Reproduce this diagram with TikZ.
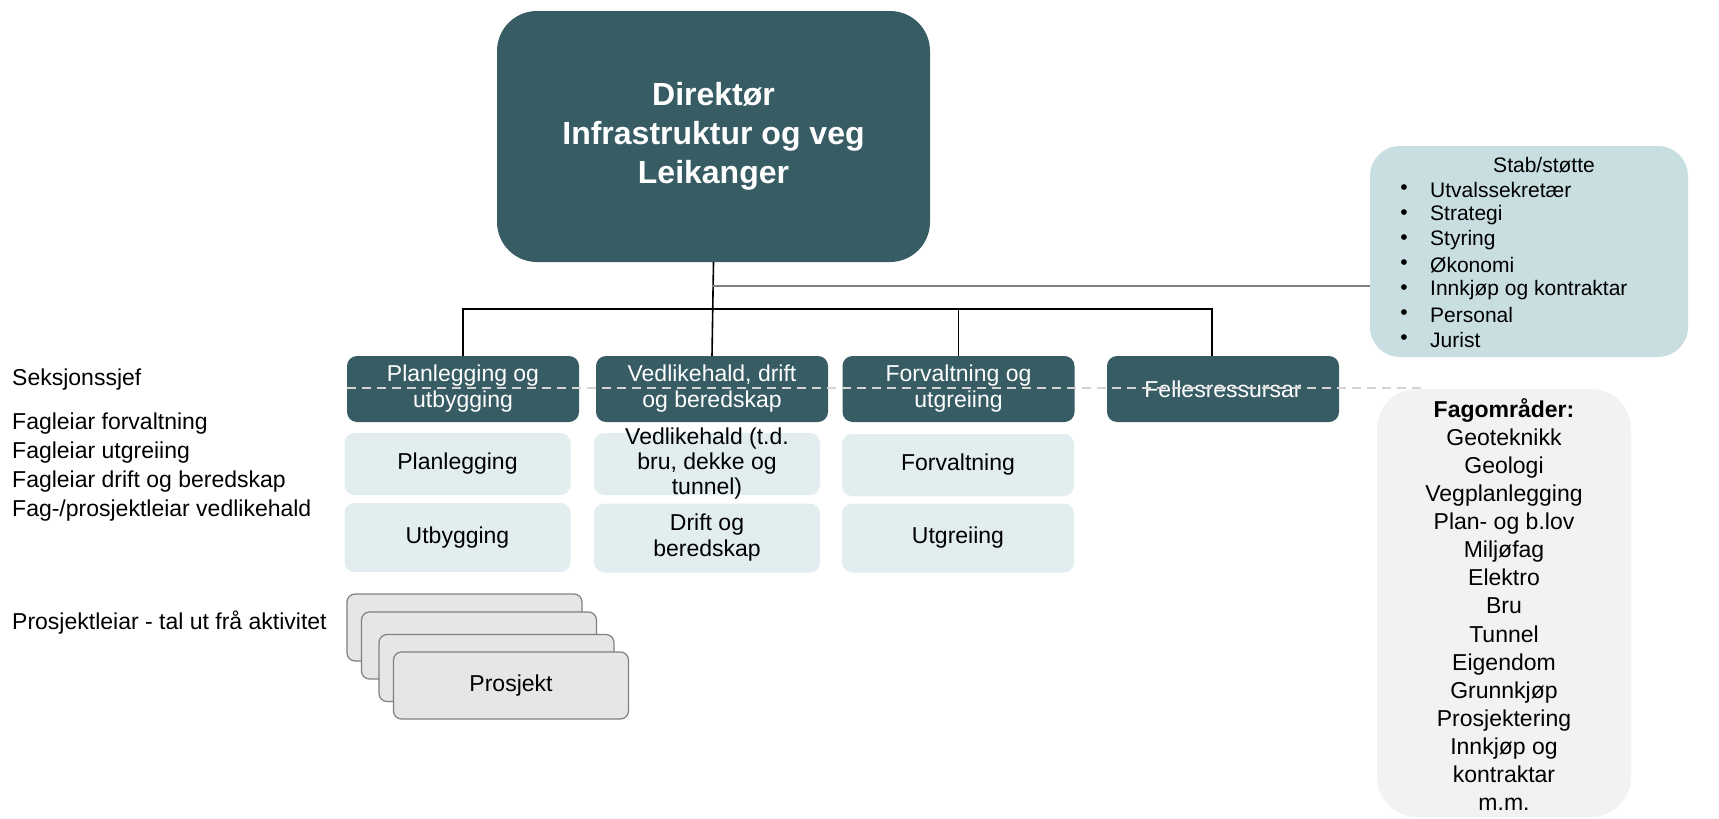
\documentclass[tikz,border=0pt]{standalone}
\usepackage{fontspec}
\setmainfont{Liberation Sans}
\usetikzlibrary{positioning}
\definecolor{mork}{HTML}{375C64}
\definecolor{lys}{HTML}{E2EDEF}
\definecolor{stabfarge}{HTML}{C8DEE1}
\definecolor{faggraa}{HTML}{F2F2F2}
\definecolor{prosjgraa}{HTML}{E6E6E6}
\definecolor{skiljegraa}{HTML}{D4D4D4}

\begin{document}
\begin{tikzpicture}[x=1pt, y=-1pt,
  seksjon/.style={fill=mork, text=white, rounded corners=10pt, minimum width=232pt, minimum height=66pt, inner sep=0pt, align=center, font=\fontsize{23}{26}\selectfont},
  fagboks/.style={fill=lys, rounded corners=10pt, minimum width=226pt, minimum height=62pt, inner sep=0pt, align=center, font=\fontsize{23}{26}\selectfont},
  prosjekt/.style={fill=prosjgraa, draw=black!50, line width=1.2pt, rounded corners=8pt, minimum width=235pt, minimum height=67pt, font=\fontsize{23}{26}\selectfont},
  venstretekst/.style={anchor=west, inner sep=0pt, align=left, font=\fontsize{23}{28.7}\selectfont},
  stabtekst/.style={anchor=west, inner sep=0pt, font=\fontsize{21}{25}\selectfont},
  orglinje/.style={line width=1.6pt, black},
  stablinje/.style={line width=1.6pt, black!50}]
  \useasboundingbox (0,0) rectangle (1719,819);

  % Direktør
  \node[fill=mork, text=white, rounded corners=40pt, minimum width=433pt, minimum height=251pt, align=center,
        font=\fontsize{32}{39}\selectfont\bfseries] (direktor) at (713.5,136.5)
        {Direktør\\Infrastruktur og veg\\Leikanger};

  % Stab/støtte
  \node[fill=stabfarge, rounded corners=30pt, minimum width=318pt, minimum height=211pt] (stab) at (1529,251.5) {};
  \node[font=\fontsize{21}{25}\selectfont] (stabtittel) at (1544,165) {Stab/støtte};
  \foreach \punkt [count=\i from 0] in {Utvalssekretær, Strategi, Styring, Økonomi, Innkjøp og kontraktar, Personal, Jurist} {
    \node[stabtekst, anchor=center] at (1404,{190+25*\i}) {•};
    \node[stabtekst] (stabpunkt\i) at (1430,{190+25*\i}) {\punkt};
  }

  % Seksjonar
  \node[seksjon] (plan) at (463,389) {Planlegging og\\utbygging};
  \node[seksjon] (vedl) at (712,389) {Vedlikehald, drift\\og beredskap};
  \node[seksjon] (forv) at (958.5,389) {Forvaltning og\\utgreiing};
  \node[seksjon] (felles) at (1223,389) {Fellesressursar};

  % Faggrupper
  \node[fagboks] (planlegging) at (457.5,464) {Planlegging};
  \node[fagboks, minimum height=69pt] (utbygging) at (457.5,537.5) {Utbygging};
  \node[fagboks] (vedlikehald) at (707,464) {};
  \node[align=center, inner sep=0pt, font=\fontsize{23}{25}\selectfont] at (vedlikehald.center) {Vedlikehald (t.d.\\bru, dekke og\\tunnel)};
  \node[fagboks, minimum height=69pt] (drift) at (707,538) {Drift og\\beredskap};
  \node[fagboks, minimum width=232pt] (forvaltning) at (958,465) {Forvaltning};
  \node[fagboks, minimum width=232pt, minimum height=69pt] (utgreiing) at (958,538) {Utgreiing};

  % Linjer
  \coordinate (bus) at (712,309);
  \coordinate (stabfeste) at (712,286);
  \draw[orgline/.style={}, orglinje] (direktor.south) -- (vedl.north);
  \draw[orglinje] (plan.north) |- (bus) -| ([xshift=-11pt]felles.north);
  \draw[orglinje] (bus -| forv.north) -- (forv.north);
  \draw[stablinje] (stabfeste) -- (stabfeste -| stab.west);

  % Skiljelinje
  \draw[skiljegraa, line width=1.5pt, dash pattern=on 9pt off 6pt] (347,388) -- (1425,388);

  % Venstre kolonne
  \node[venstretekst] (seksjonssjef) at (12,380) {Seksjonssjef};
  \node[venstretekst] (fagleiar) at (12,467) {Fagleiar forvaltning\\Fagleiar utgreiing\\Fagleiar drift og beredskap\\Fag-/prosjektleiar vedlikehald};
  \node[venstretekst] (prosjektleiar) at (12,623) {Prosjektleiar - tal ut frå aktivitet};

  % Prosjekt
  \foreach \px/\py [count=\i] in {464.5/627.5, 479/645.5, 496.5/668} {
    \node[prosjekt] (prosjekt\i) at (\px,\py) {};
  }
  \node[prosjekt] (prosjekt4) at (511,685.5) {Prosjekt};

  % Fagområde
  \node[fill=faggraa, rounded corners=40pt, minimum width=254pt, minimum height=428pt] (fag) at (1504,603) {};
  \node[align=center, inner sep=0pt, font=\fontsize{23}{28.07}\selectfont] (fagtekst) at (1504,604.5)
    {\textbf{Fagområder:}\\Geoteknikk\\Geologi\\Vegplanlegging\\Plan- og b.lov\\Miljøfag\\Elektro\\Bru\\Tunnel\\Eigendom\\Grunnkjøp\\Prosjektering\\Innkjøp og\\kontraktar\\m.m.};
\end{tikzpicture}
\end{document}
